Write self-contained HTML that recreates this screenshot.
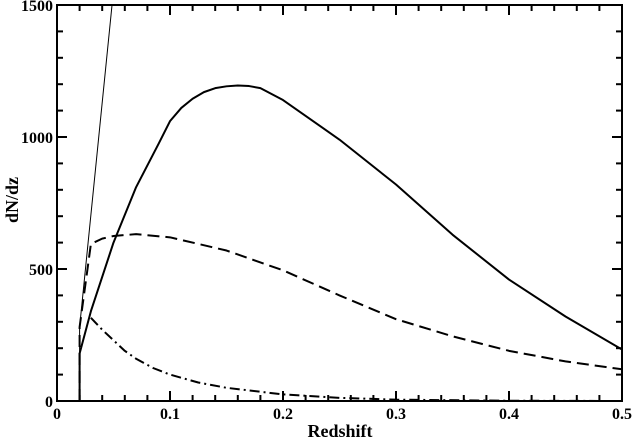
<!DOCTYPE html>
<html><head><meta charset="utf-8"><style>
body{margin:0;background:#fff}
svg{display:block;font-family:"Liberation Serif",serif;font-weight:bold}
</style></head><body>
<svg id="chart" width="633" height="438">
<defs><clipPath id="clip"><rect x="57" y="5" width="565" height="396"/></clipPath></defs>
<g id="plot" clip-path="url(#clip)"></g>
<rect x="57" y="5" width="565" height="396" fill="none" stroke="#000" stroke-width="2"/>
<g id="axes"></g>
<text x="340" y="437" text-anchor="middle" font-size="18">Redshift</text>
<text transform="translate(18,200) rotate(-90)" text-anchor="middle" font-size="18">dN/dz</text>
</svg>
<script>
const xTicks=[0,0.1,0.2,0.3,0.4,0.5];
const xTickLabels=["0","0.1","0.2","0.3","0.4","0.5"];
const yTicks=[0,500,1000,1500];
const yTickLabels=["0","500","1000","1500"];
const thinZ=[0.02,0.02,0.0487];
const thinN=[0,280,1500];
const solidZ=[0.02,0.02,0.03,0.05,0.07,0.09,0.1,0.11,0.12,0.13,0.14,0.15,0.16,0.17,0.18,0.2,0.25,0.3,0.35,0.4,0.45,0.5];
const solidN=[0,180,340,600,810,975,1060,1110,1145,1170,1185,1192,1195,1193,1185,1140,990,820,630,460,320,195];
const dashZ=[0.02,0.02,0.03,0.04,0.05,0.07,0.1,0.15,0.2,0.25,0.3,0.35,0.4,0.45,0.5];
const dashN=[0,280,595,615,625,632,620,570,495,400,310,245,190,150,120];
const dotZ=[0.03,0.04,0.05,0.06,0.07,0.085,0.1,0.125,0.15,0.2,0.25,0.3,0.4,0.5];
const dotN=[315,270,230,190,160,125,100,70,50,25,12,5,1,0];
const NS="http://www.w3.org/2000/svg";
const X=z=>57+z/0.5*565, Y=n=>401-n/1500*396;
const plot=document.getElementById('plot'), axes=document.getElementById('axes');
function mk(t,a,p){const e=document.createElementNS(NS,t);for(const k in a)e.setAttribute(k,a[k]);p.appendChild(e);return e;}
function line(zs,ns,w,dash,name){
 const e=mk('polyline',{points:zs.map((z,i)=>X(z)+','+Y(ns[i])).join(' '),fill:'none',stroke:'#000','stroke-width':w,'stroke-linejoin':'round','stroke-dasharray':dash||'none'},plot);
 
 
}
line(thinZ,thinN,1,null,'thin-line-series');
line(solidZ,solidN,2,null,'solid-line-series');
line(dashZ,dashN,2,'12,6','dashed-line-series');
line(dotZ,dotN,2,'10,4,2,4','dash-dot-line-series');
for(let v=0;v<=0.5001;v+=0.02){const x=X(v),maj=Math.abs(v*10-Math.round(v*10))<1e-6,l=maj?10:6;
 mk('line',{x1:x,y1:401,x2:x,y2:401-l,stroke:'#000','stroke-width':2},axes);
 mk('line',{x1:x,y1:5,x2:x,y2:5+l,stroke:'#000','stroke-width':2},axes);}
for(let v=0;v<=1500;v+=100){const y=Y(v),l=v%500==0?10:6;
 mk('line',{x1:57,y1:y,x2:57+l,y2:y,stroke:'#000','stroke-width':2},axes);
 mk('line',{x1:622,y1:y,x2:622-l,y2:y,stroke:'#000','stroke-width':2},axes);}
xTicks.forEach((v,i)=>{const t=mk('text',{x:X(v),y:419,'text-anchor':'middle','font-size':16},axes);t.textContent=xTickLabels[i];
 
 });
yTicks.forEach((v,i)=>{const t=mk('text',{x:53,y:Y(v)+6,'text-anchor':'end','font-size':16},axes);t.textContent=yTickLabels[i];
 
 });
</script>
</body></html>
